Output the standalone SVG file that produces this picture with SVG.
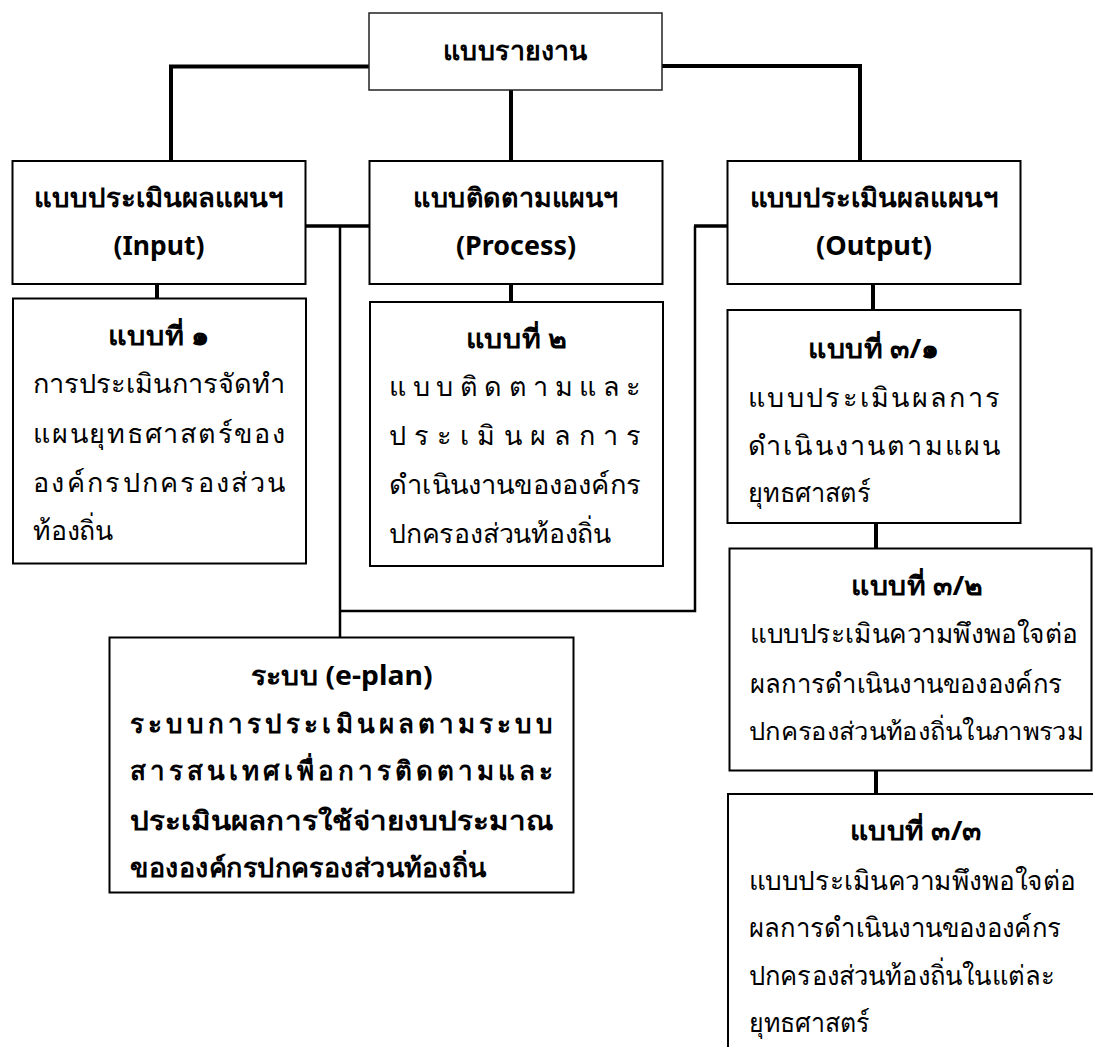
<svg xmlns="http://www.w3.org/2000/svg" width="1093" height="1047" viewBox="0 0 1093 1047">
<style>
.box{fill:#fff;stroke:#000;stroke-width:2}
.thin{stroke-width:1.5;stroke:#222}
.c{fill:none;stroke:#000;stroke-linecap:butt;stroke-linejoin:miter}
.w4{stroke-width:4}
.w3{stroke-width:3.5}
.w2{stroke-width:2.5}
text{font-family:"Noto Sans","DejaVu Sans",sans-serif;font-size:27px;fill:#000}
.b{font-weight:bold;font-size:26px}
.m{text-anchor:middle}
.s{font-size:25px}
</style>
<rect width="1093" height="1047" fill="#fff"/>
<g id="connectors">
<path class="c w4" d="M369 66.5H171V162"/>
<path class="c w4" d="M511 90V162"/>
<path class="c w4" d="M662 66H860V162"/>
<path class="c w3" d="M306 226H369"/>
<path class="c w2" d="M340 226V637"/>
<path class="c w2" d="M340 611H695V226"/>
<path class="c w3" d="M694 226H727"/>
<path class="c w4" d="M157 284V299"/>
<path class="c w4" d="M511 284V302"/>
<path class="c w4" d="M873 284V310"/>
<path class="c w4" d="M876 523V549"/>
<path class="c w4" d="M876 771V794"/>
</g>
<g id="top">
<rect class="box thin" x="369" y="13" width="293" height="77"/>
<text class="b m" x="515.5" y="60" textLength="145" lengthAdjust="spacingAndGlyphs">แบบรายงาน</text>
</g>
<g id="input">
<rect class="box" x="12.5" y="161" width="293" height="123"/>
<text class="b m" x="159" y="207" textLength="250" lengthAdjust="spacingAndGlyphs">แบบประเมินผลแผนฯ</text>
<text class="b m" x="159" y="255" textLength="91" lengthAdjust="spacingAndGlyphs">(Input)</text>
</g>
<g id="process">
<rect class="box" x="369.5" y="161" width="293" height="123"/>
<text class="b m" x="516" y="207" textLength="206" lengthAdjust="spacingAndGlyphs">แบบติดตามแผนฯ</text>
<text class="b m" x="516" y="255" textLength="120" lengthAdjust="spacingAndGlyphs">(Process)</text>
</g>
<g id="output">
<rect class="box" x="727.5" y="161" width="293" height="123"/>
<text class="b m" x="874" y="207" textLength="249" lengthAdjust="spacingAndGlyphs">แบบประเมินผลแผนฯ</text>
<text class="b m" x="874" y="255" textLength="116" lengthAdjust="spacingAndGlyphs">(Output)</text>
</g>
<g id="form1">
<rect class="box" x="13" y="298.5" width="293" height="265"/>
<text class="b m" x="159.3" y="345" textLength="102" lengthAdjust="spacingAndGlyphs">แบบที่ ๑</text>
<text x="33" y="393" textLength="252" lengthAdjust="spacingAndGlyphs">การประเมินการจัดทำ</text>
<text x="33" y="443" textLength="252" lengthAdjust="spacing">แผนยุทธศาสตร์ของ</text>
<text x="33" y="492" textLength="252" lengthAdjust="spacing">องค์กรปกครองส่วน</text>
<text x="33" y="540" textLength="80" lengthAdjust="spacingAndGlyphs">ท้องถิ่น</text>
</g>
<g id="form2">
<rect class="box" x="370" y="302" width="293" height="264"/>
<text class="b m" x="516" y="348" textLength="101" lengthAdjust="spacingAndGlyphs">แบบที่ ๒</text>
<text x="389" y="396" textLength="252" lengthAdjust="spacing">แบบติดตามและ</text>
<text x="389" y="445" textLength="252" lengthAdjust="spacing">ประเมินผลการ</text>
<text x="389" y="494" textLength="252" lengthAdjust="spacingAndGlyphs">ดำเนินงานขององค์กร</text>
<text x="389" y="543" textLength="222" lengthAdjust="spacingAndGlyphs">ปกครองส่วนท้องถิ่น</text>
</g>
<g id="form3-1">
<rect class="box" x="727.5" y="310" width="293" height="213"/>
<text class="b m" x="874" y="358" textLength="132" lengthAdjust="spacingAndGlyphs">แบบที่ ๓/๑</text>
<text x="748" y="407" textLength="252" lengthAdjust="spacing">แบบประเมินผลการ</text>
<text x="748" y="455" textLength="252" lengthAdjust="spacing">ดำเนินงานตามแผน</text>
<text x="748" y="502" textLength="123" lengthAdjust="spacingAndGlyphs">ยุทธศาสตร์</text>
</g>
<g id="form3-2">
<rect class="box" x="729.5" y="548.5" width="362" height="222"/>
<text class="b m" x="917" y="595" textLength="132" lengthAdjust="spacingAndGlyphs">แบบที่ ๓/๒</text>
<text x="750" y="643" textLength="328" lengthAdjust="spacingAndGlyphs">แบบประเมินความพึงพอใจต่อ</text>
<text x="750" y="693" textLength="312" lengthAdjust="spacingAndGlyphs">ผลการดำเนินงานขององค์กร</text>
<text class="s" x="749" y="740" textLength="334" lengthAdjust="spacingAndGlyphs">ปกครองส่วนท้องถิ่นในภาพรวม</text>
</g>
<g id="form3-3">
<rect class="box" x="728" y="794" width="368" height="270"/>
<text class="b m" x="916" y="840" textLength="132" lengthAdjust="spacingAndGlyphs">แบบที่ ๓/๓</text>
<text x="749" y="890" textLength="327" lengthAdjust="spacingAndGlyphs">แบบประเมินความพึงพอใจต่อ</text>
<text x="749" y="937" textLength="312" lengthAdjust="spacingAndGlyphs">ผลการดำเนินงานขององค์กร</text>
<text x="749" y="985" textLength="306" lengthAdjust="spacingAndGlyphs">ปกครองส่วนท้องถิ่นในแต่ละ</text>
<text x="749" y="1032" textLength="121" lengthAdjust="spacingAndGlyphs">ยุทธศาสตร์</text>
</g>
<g id="eplan">
<rect class="box" x="109.5" y="637.5" width="464" height="255"/>
<text class="b m" x="341.5" y="685" textLength="182" lengthAdjust="spacingAndGlyphs">ระบบ (e-plan)</text>
<text class="b" x="130" y="733" textLength="423" lengthAdjust="spacing">ระบบการประเมินผลตามระบบ</text>
<text class="b" x="130" y="780" textLength="423" lengthAdjust="spacing">สารสนเทศเพื่อการติดตามและ</text>
<text class="b" x="130" y="830" textLength="423" lengthAdjust="spacingAndGlyphs">ประเมินผลการใช้จ่ายงบประมาณ</text>
<text class="b" x="130" y="877" textLength="357" lengthAdjust="spacingAndGlyphs">ขององค์กรปกครองส่วนท้องถิ่น</text>
</g>
</svg>
